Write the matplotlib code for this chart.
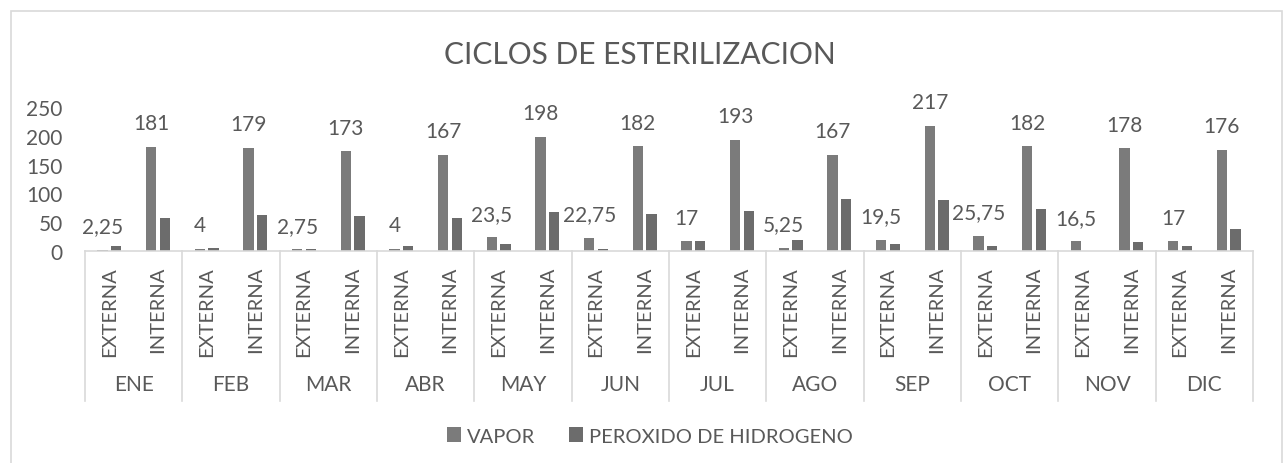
import matplotlib.pyplot as plt
from matplotlib.patches import Rectangle
from matplotlib.lines import Line2D
import numpy as np

plt.rcParams['font.family'] = ['Lato', 'DejaVu Sans']

# Data
meses = ['ENE', 'FEB', 'MAR', 'ABR', 'MAY', 'JUN', 'JUL', 'AGO', 'SEP', 'OCT', 'NOV', 'DIC']
tipos = ['EXTERNA', 'INTERNA']
vapor = [2.25, 181, 4, 179, 2.75, 173, 4, 167, 23.5, 198, 22.75, 182,
         17, 193, 5.25, 167, 19.5, 217, 25.75, 182, 16.5, 178, 17, 176]
peroxido = [8, 58, 6, 62, 4, 61, 9, 58, 13, 68, 3, 65,
            17, 69, 19, 91, 12, 88, 9, 73, 0, 16, 8, 39]

txt = '#595959'
c_vapor = '#7b7b7b'
c_perox = '#6c6c6c'
fs = 15

W, H = 1286, 464
fig = plt.figure(figsize=(W / 100, H / 100), dpi=100)
fig.patches.append(Rectangle((11 / W, -0.05), (1282 - 11) / W, (H - 12) / H + 0.05,
                             transform=fig.transFigure, fill=False,
                             edgecolor='#d9d9d9', linewidth=1.2))

x0, x1, y0, y1 = 85, 1253, 252, 108
ax = fig.add_axes([x0 / W, 1 - y0 / H, (x1 - x0) / W, (y0 - y1) / H])

n = len(vapor)
x = np.arange(n)
w = 0.215
ax.bar(x - 0.14, vapor, width=w, color=c_vapor, label='VAPOR')
ax.bar(x + 0.14, peroxido, width=w, color=c_perox, label='PEROXIDO DE HIDROGENO')

def fmt(v):
    return ('%g' % v).replace('.', ',')

for xi, v in zip(x, vapor):
    ax.annotate(fmt(v), (xi - 0.14, v), xytext=(0, 17), textcoords='offset points',
                ha='center', va='center', fontsize=fs, color=txt)

ax.set_xlim(-0.5, n - 0.5)
ax.set_ylim(0, 250)
ax.set_yticks(range(0, 251, 50))
ax.tick_params(axis='y', length=0, labelsize=fs, labelcolor=txt, pad=16)
ax.set_xticks([])
for s in ['top', 'right', 'left']:
    ax.spines[s].set_visible(False)
ax.spines['bottom'].set_color('#d9d9d9')
ax.spines['bottom'].set_linewidth(1.2)

# two-level category axis
trans = ax.get_xaxis_transform()
def ypos(py):
    return (y0 - py) / (y0 - y1)

for i in range(n):
    ax.text(x[i], ypos(267), tipos[i % 2], rotation=90, ha='center', va='top',
            fontsize=14.5, color=txt, transform=trans, clip_on=False)
for m, mes in enumerate(meses):
    ax.text(2 * m + 0.5, ypos(385), mes, ha='center', va='center',
            fontsize=fs, color=txt, transform=trans, clip_on=False)
for b in range(len(meses) + 1):
    ax.add_line(Line2D([2 * b - 0.5, 2 * b - 0.5], [0, ypos(402)], transform=trans,
                       color='#d9d9d9', linewidth=1.2, clip_on=False))

fig.text(640 / W, 1 - 55 / H, 'CICLOS DE ESTERILIZACION', ha='center', va='center',
         fontsize=21.5, color=txt)

fig.legend(loc='center', bbox_to_anchor=(650 / W, 1 - 437 / H), ncol=2, frameon=False,
           fontsize=14.5, labelcolor=txt, handlelength=0.7, handleheight=0.7,
           handletextpad=0.3, columnspacing=1.7)

fig.savefig('out.png', dpi=100)
